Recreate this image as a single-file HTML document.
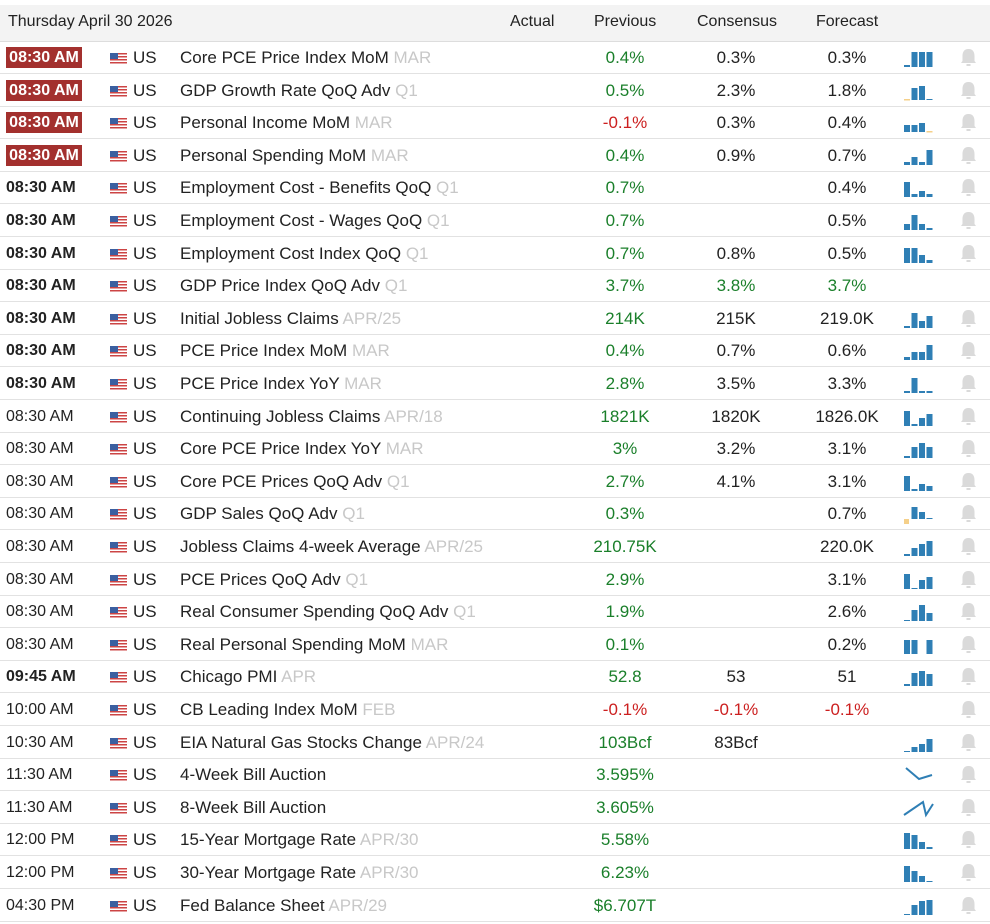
<!DOCTYPE html>
<html><head><meta charset="utf-8"><style>
body{margin:0;width:990px;height:924px;background:#fff;font-family:"Liberation Sans",Arial,sans-serif;font-size:17px;color:#222;position:relative;overflow:hidden}
.hd{position:absolute;left:0;top:5px;width:990px;height:36px;background:#f3f3f3;border-bottom:1px solid #ddd}
.hd span{position:absolute;top:8px;font-size:16px;color:#222}
.r{position:absolute;left:0;width:990px;height:32px;border-bottom:1px solid #e2e2e2}
.r>*{position:absolute;top:0;line-height:34px}
.t{left:6px;width:76px;text-align:left;font-size:16px}
.b{font-weight:bold}
.bd{top:6px!important;height:21px;line-height:21px!important;background:#a3302e;color:#fff;font-weight:bold;text-align:center;left:6px;width:76px;font-size:16px}
.fl{left:110px;top:12px!important;width:17px;height:11px;background:repeating-linear-gradient(#c44 0 1.5px,#fff 1.5px 3px)}
.fl:before{content:"";position:absolute;left:0;top:0;width:8px;height:6px;background:#3b5fa0}
.us{left:133px}
.ev{left:180px}
.ev i{font-style:normal;color:#c8c8c8}
.c{text-align:center;width:110px}
.a{left:476px}.p{left:570px}.n{left:681px}.f{left:792px}
.g{color:#1a7f2a}.red{color:#cc1f1f}
svg.s{left:900px;top:0!important;width:40px;height:32px}
svg.bell{left:960px;top:7px!important;width:17px;height:19px}
</style></head><body>
<div class="hd"><span style="left:8px">Thursday April 30 2026</span><span style="left:510px">Actual</span><span style="left:594px">Previous</span><span style="left:697px">Consensus</span><span style="left:816px">Forecast</span></div>

<div class="r" style="top:41px"><span class="bd">08:30 AM</span><span class="fl"></span><span class="us">US</span><span class="ev">Core PCE Price Index MoM <i>MAR</i></span><span class="c p g">0.4%</span><span class="c n">0.3%</span><span class="c f">0.3%</span><svg class="s"><g fill="#2f7fb5"><rect x="4" y="24" width="6" height="2"/><rect x="11.5" y="11" width="6" height="15"/><rect x="19" y="11" width="6" height="15"/><rect x="26.5" y="11" width="6" height="15"/></g></svg><svg class="bell"><path d="M8.5 1C3.5 1 2.5 5 2.5 8v5L1 15h15l-1.5-2V8c0-3-1-7-6-7zM6.5 16h4v2h-4z" fill="#dadada"/></svg></div>
<div class="r" style="top:73.6px"><span class="bd">08:30 AM</span><span class="fl"></span><span class="us">US</span><span class="ev">GDP Growth Rate QoQ Adv <i>Q1</i></span><span class="c p g">0.5%</span><span class="c n">2.3%</span><span class="c f">1.8%</span><svg class="s"><g fill="#2f7fb5"><rect x="4" y="25" width="6" height="1.5" fill="#f5d08a"/><rect x="11.5" y="14" width="6" height="12"/><rect x="19" y="12" width="6" height="14"/><rect x="26.5" y="25" width="6" height="1"/></g></svg><svg class="bell"><path d="M8.5 1C3.5 1 2.5 5 2.5 8v5L1 15h15l-1.5-2V8c0-3-1-7-6-7zM6.5 16h4v2h-4z" fill="#dadada"/></svg></div>
<div class="r" style="top:106.2px"><span class="bd">08:30 AM</span><span class="fl"></span><span class="us">US</span><span class="ev">Personal Income MoM <i>MAR</i></span><span class="c p red">-0.1%</span><span class="c n">0.3%</span><span class="c f">0.4%</span><svg class="s"><g fill="#2f7fb5"><rect x="4" y="19" width="6" height="7"/><rect x="11.5" y="19" width="6" height="7"/><rect x="19" y="17" width="6" height="9"/><rect x="26.5" y="25" width="6" height="1.5" fill="#f5d08a"/></g></svg><svg class="bell"><path d="M8.5 1C3.5 1 2.5 5 2.5 8v5L1 15h15l-1.5-2V8c0-3-1-7-6-7zM6.5 16h4v2h-4z" fill="#dadada"/></svg></div>
<div class="r" style="top:138.8px"><span class="bd">08:30 AM</span><span class="fl"></span><span class="us">US</span><span class="ev">Personal Spending MoM <i>MAR</i></span><span class="c p g">0.4%</span><span class="c n">0.9%</span><span class="c f">0.7%</span><svg class="s"><g fill="#2f7fb5"><rect x="4" y="23" width="6" height="3"/><rect x="11.5" y="18" width="6" height="8"/><rect x="19" y="23" width="6" height="3"/><rect x="26.5" y="11" width="6" height="15"/></g></svg><svg class="bell"><path d="M8.5 1C3.5 1 2.5 5 2.5 8v5L1 15h15l-1.5-2V8c0-3-1-7-6-7zM6.5 16h4v2h-4z" fill="#dadada"/></svg></div>
<div class="r" style="top:171.4px"><span class="t b">08:30 AM</span><span class="fl"></span><span class="us">US</span><span class="ev">Employment Cost - Benefits QoQ <i>Q1</i></span><span class="c p g">0.7%</span><span class="c f">0.4%</span><svg class="s"><g fill="#2f7fb5"><rect x="4" y="11" width="6" height="15"/><rect x="11.5" y="23" width="6" height="3"/><rect x="19" y="20" width="6" height="6"/><rect x="26.5" y="23" width="6" height="3"/></g></svg><svg class="bell"><path d="M8.5 1C3.5 1 2.5 5 2.5 8v5L1 15h15l-1.5-2V8c0-3-1-7-6-7zM6.5 16h4v2h-4z" fill="#dadada"/></svg></div>
<div class="r" style="top:204px"><span class="t b">08:30 AM</span><span class="fl"></span><span class="us">US</span><span class="ev">Employment Cost - Wages QoQ <i>Q1</i></span><span class="c p g">0.7%</span><span class="c f">0.5%</span><svg class="s"><g fill="#2f7fb5"><rect x="4" y="20" width="6" height="6"/><rect x="11.5" y="11" width="6" height="15"/><rect x="19" y="20" width="6" height="6"/><rect x="26.5" y="24" width="6" height="2"/></g></svg><svg class="bell"><path d="M8.5 1C3.5 1 2.5 5 2.5 8v5L1 15h15l-1.5-2V8c0-3-1-7-6-7zM6.5 16h4v2h-4z" fill="#dadada"/></svg></div>
<div class="r" style="top:236.6px"><span class="t b">08:30 AM</span><span class="fl"></span><span class="us">US</span><span class="ev">Employment Cost Index QoQ <i>Q1</i></span><span class="c p g">0.7%</span><span class="c n">0.8%</span><span class="c f">0.5%</span><svg class="s"><g fill="#2f7fb5"><rect x="4" y="11" width="6" height="15"/><rect x="11.5" y="11" width="6" height="15"/><rect x="19" y="18" width="6" height="8"/><rect x="26.5" y="23" width="6" height="3"/></g></svg><svg class="bell"><path d="M8.5 1C3.5 1 2.5 5 2.5 8v5L1 15h15l-1.5-2V8c0-3-1-7-6-7zM6.5 16h4v2h-4z" fill="#dadada"/></svg></div>
<div class="r" style="top:269.2px"><span class="t b">08:30 AM</span><span class="fl"></span><span class="us">US</span><span class="ev">GDP Price Index QoQ Adv <i>Q1</i></span><span class="c p g">3.7%</span><span class="c n g">3.8%</span><span class="c f g">3.7%</span></div>
<div class="r" style="top:301.8px"><span class="t b">08:30 AM</span><span class="fl"></span><span class="us">US</span><span class="ev">Initial Jobless Claims <i>APR/25</i></span><span class="c p g">214K</span><span class="c n">215K</span><span class="c f">219.0K</span><svg class="s"><g fill="#2f7fb5"><rect x="4" y="24" width="6" height="2"/><rect x="11.5" y="11" width="6" height="15"/><rect x="19" y="19" width="6" height="7"/><rect x="26.5" y="14" width="6" height="12"/></g></svg><svg class="bell"><path d="M8.5 1C3.5 1 2.5 5 2.5 8v5L1 15h15l-1.5-2V8c0-3-1-7-6-7zM6.5 16h4v2h-4z" fill="#dadada"/></svg></div>
<div class="r" style="top:334.4px"><span class="t b">08:30 AM</span><span class="fl"></span><span class="us">US</span><span class="ev">PCE Price Index MoM <i>MAR</i></span><span class="c p g">0.4%</span><span class="c n">0.7%</span><span class="c f">0.6%</span><svg class="s"><g fill="#2f7fb5"><rect x="4" y="23" width="6" height="3"/><rect x="11.5" y="18" width="6" height="8"/><rect x="19" y="18" width="6" height="8"/><rect x="26.5" y="11" width="6" height="15"/></g></svg><svg class="bell"><path d="M8.5 1C3.5 1 2.5 5 2.5 8v5L1 15h15l-1.5-2V8c0-3-1-7-6-7zM6.5 16h4v2h-4z" fill="#dadada"/></svg></div>
<div class="r" style="top:367px"><span class="t b">08:30 AM</span><span class="fl"></span><span class="us">US</span><span class="ev">PCE Price Index YoY <i>MAR</i></span><span class="c p g">2.8%</span><span class="c n">3.5%</span><span class="c f">3.3%</span><svg class="s"><g fill="#2f7fb5"><rect x="4" y="24" width="6" height="2"/><rect x="11.5" y="11" width="6" height="15"/><rect x="19" y="24" width="6" height="2"/><rect x="26.5" y="24" width="6" height="2"/></g></svg><svg class="bell"><path d="M8.5 1C3.5 1 2.5 5 2.5 8v5L1 15h15l-1.5-2V8c0-3-1-7-6-7zM6.5 16h4v2h-4z" fill="#dadada"/></svg></div>
<div class="r" style="top:399.6px"><span class="t">08:30 AM</span><span class="fl"></span><span class="us">US</span><span class="ev">Continuing Jobless Claims <i>APR/18</i></span><span class="c p g">1821K</span><span class="c n">1820K</span><span class="c f">1826.0K</span><svg class="s"><g fill="#2f7fb5"><rect x="4" y="11" width="6" height="15"/><rect x="11.5" y="24" width="6" height="2"/><rect x="19" y="18" width="6" height="8"/><rect x="26.5" y="14" width="6" height="12"/></g></svg><svg class="bell"><path d="M8.5 1C3.5 1 2.5 5 2.5 8v5L1 15h15l-1.5-2V8c0-3-1-7-6-7zM6.5 16h4v2h-4z" fill="#dadada"/></svg></div>
<div class="r" style="top:432.2px"><span class="t">08:30 AM</span><span class="fl"></span><span class="us">US</span><span class="ev">Core PCE Price Index YoY <i>MAR</i></span><span class="c p g">3%</span><span class="c n">3.2%</span><span class="c f">3.1%</span><svg class="s"><g fill="#2f7fb5"><rect x="4" y="24" width="6" height="2"/><rect x="11.5" y="15" width="6" height="11"/><rect x="19" y="11" width="6" height="15"/><rect x="26.5" y="15" width="6" height="11"/></g></svg><svg class="bell"><path d="M8.5 1C3.5 1 2.5 5 2.5 8v5L1 15h15l-1.5-2V8c0-3-1-7-6-7zM6.5 16h4v2h-4z" fill="#dadada"/></svg></div>
<div class="r" style="top:464.8px"><span class="t">08:30 AM</span><span class="fl"></span><span class="us">US</span><span class="ev">Core PCE Prices QoQ Adv <i>Q1</i></span><span class="c p g">2.7%</span><span class="c n">4.1%</span><span class="c f">3.1%</span><svg class="s"><g fill="#2f7fb5"><rect x="4" y="11" width="6" height="15"/><rect x="11.5" y="24" width="6" height="2"/><rect x="19" y="19" width="6" height="7"/><rect x="26.5" y="21" width="6" height="5"/></g></svg><svg class="bell"><path d="M8.5 1C3.5 1 2.5 5 2.5 8v5L1 15h15l-1.5-2V8c0-3-1-7-6-7zM6.5 16h4v2h-4z" fill="#dadada"/></svg></div>
<div class="r" style="top:497.4px"><span class="t">08:30 AM</span><span class="fl"></span><span class="us">US</span><span class="ev">GDP Sales QoQ Adv <i>Q1</i></span><span class="c p g">0.3%</span><span class="c f">0.7%</span><svg class="s"><g fill="#2f7fb5"><rect x="4" y="22" width="5" height="5" fill="#f5d08a"/><rect x="11.5" y="10" width="6" height="12"/><rect x="19" y="15" width="6" height="7"/><rect x="26.5" y="21" width="6" height="1"/></g></svg><svg class="bell"><path d="M8.5 1C3.5 1 2.5 5 2.5 8v5L1 15h15l-1.5-2V8c0-3-1-7-6-7zM6.5 16h4v2h-4z" fill="#dadada"/></svg></div>
<div class="r" style="top:530px"><span class="t">08:30 AM</span><span class="fl"></span><span class="us">US</span><span class="ev">Jobless Claims 4-week Average <i>APR/25</i></span><span class="c p g">210.75K</span><span class="c f">220.0K</span><svg class="s"><g fill="#2f7fb5"><rect x="4" y="24" width="6" height="2"/><rect x="11.5" y="18" width="6" height="8"/><rect x="19" y="14" width="6" height="12"/><rect x="26.5" y="11" width="6" height="15"/></g></svg><svg class="bell"><path d="M8.5 1C3.5 1 2.5 5 2.5 8v5L1 15h15l-1.5-2V8c0-3-1-7-6-7zM6.5 16h4v2h-4z" fill="#dadada"/></svg></div>
<div class="r" style="top:562.6px"><span class="t">08:30 AM</span><span class="fl"></span><span class="us">US</span><span class="ev">PCE Prices QoQ Adv <i>Q1</i></span><span class="c p g">2.9%</span><span class="c f">3.1%</span><svg class="s"><g fill="#2f7fb5"><rect x="4" y="11" width="6" height="15"/><rect x="11.5" y="25" width="6" height="1"/><rect x="19" y="17" width="6" height="9"/><rect x="26.5" y="14" width="6" height="12"/></g></svg><svg class="bell"><path d="M8.5 1C3.5 1 2.5 5 2.5 8v5L1 15h15l-1.5-2V8c0-3-1-7-6-7zM6.5 16h4v2h-4z" fill="#dadada"/></svg></div>
<div class="r" style="top:595.2px"><span class="t">08:30 AM</span><span class="fl"></span><span class="us">US</span><span class="ev">Real Consumer Spending QoQ Adv <i>Q1</i></span><span class="c p g">1.9%</span><span class="c f">2.6%</span><svg class="s"><g fill="#2f7fb5"><rect x="4" y="25" width="6" height="1"/><rect x="11.5" y="15" width="6" height="11"/><rect x="19" y="10" width="6" height="16"/><rect x="26.5" y="18" width="6" height="8"/></g></svg><svg class="bell"><path d="M8.5 1C3.5 1 2.5 5 2.5 8v5L1 15h15l-1.5-2V8c0-3-1-7-6-7zM6.5 16h4v2h-4z" fill="#dadada"/></svg></div>
<div class="r" style="top:627.8px"><span class="t">08:30 AM</span><span class="fl"></span><span class="us">US</span><span class="ev">Real Personal Spending MoM <i>MAR</i></span><span class="c p g">0.1%</span><span class="c f">0.2%</span><svg class="s"><g fill="#2f7fb5"><rect x="4" y="12" width="6" height="14"/><rect x="11.5" y="12" width="6" height="14"/><rect x="26.5" y="12" width="6" height="14"/></g></svg><svg class="bell"><path d="M8.5 1C3.5 1 2.5 5 2.5 8v5L1 15h15l-1.5-2V8c0-3-1-7-6-7zM6.5 16h4v2h-4z" fill="#dadada"/></svg></div>
<div class="r" style="top:660.4px"><span class="t b">09:45 AM</span><span class="fl"></span><span class="us">US</span><span class="ev">Chicago PMI <i>APR</i></span><span class="c p g">52.8</span><span class="c n">53</span><span class="c f">51</span><svg class="s"><g fill="#2f7fb5"><rect x="4" y="24" width="6" height="2"/><rect x="11.5" y="13" width="6" height="13"/><rect x="19" y="11" width="6" height="15"/><rect x="26.5" y="14" width="6" height="12"/></g></svg><svg class="bell"><path d="M8.5 1C3.5 1 2.5 5 2.5 8v5L1 15h15l-1.5-2V8c0-3-1-7-6-7zM6.5 16h4v2h-4z" fill="#dadada"/></svg></div>
<div class="r" style="top:693px"><span class="t">10:00 AM</span><span class="fl"></span><span class="us">US</span><span class="ev">CB Leading Index MoM <i>FEB</i></span><span class="c p red">-0.1%</span><span class="c n red">-0.1%</span><span class="c f red">-0.1%</span><svg class="bell"><path d="M8.5 1C3.5 1 2.5 5 2.5 8v5L1 15h15l-1.5-2V8c0-3-1-7-6-7zM6.5 16h4v2h-4z" fill="#dadada"/></svg></div>
<div class="r" style="top:725.6px"><span class="t">10:30 AM</span><span class="fl"></span><span class="us">US</span><span class="ev">EIA Natural Gas Stocks Change <i>APR/24</i></span><span class="c p g">103Bcf</span><span class="c n">83Bcf</span><svg class="s"><g fill="#2f7fb5"><rect x="4" y="25" width="6" height="1"/><rect x="11.5" y="21" width="6" height="5"/><rect x="19" y="18" width="6" height="8"/><rect x="26.5" y="13" width="6" height="13"/></g></svg><svg class="bell"><path d="M8.5 1C3.5 1 2.5 5 2.5 8v5L1 15h15l-1.5-2V8c0-3-1-7-6-7zM6.5 16h4v2h-4z" fill="#dadada"/></svg></div>
<div class="r" style="top:758.2px"><span class="t">11:30 AM</span><span class="fl"></span><span class="us">US</span><span class="ev">4-Week Bill Auction</span><span class="c p g">3.595%</span><svg class="s"><polyline points="6,10 19,21 32,17" fill="none" stroke="#2f7fb5" stroke-width="2"/></svg><svg class="bell"><path d="M8.5 1C3.5 1 2.5 5 2.5 8v5L1 15h15l-1.5-2V8c0-3-1-7-6-7zM6.5 16h4v2h-4z" fill="#dadada"/></svg></div>
<div class="r" style="top:790.8px"><span class="t">11:30 AM</span><span class="fl"></span><span class="us">US</span><span class="ev">8-Week Bill Auction</span><span class="c p g">3.605%</span><svg class="s"><polyline points="4,24 23,11 26,24 33,13" fill="none" stroke="#2f7fb5" stroke-width="2"/></svg><svg class="bell"><path d="M8.5 1C3.5 1 2.5 5 2.5 8v5L1 15h15l-1.5-2V8c0-3-1-7-6-7zM6.5 16h4v2h-4z" fill="#dadada"/></svg></div>
<div class="r" style="top:823.4px"><span class="t">12:00 PM</span><span class="fl"></span><span class="us">US</span><span class="ev">15-Year Mortgage Rate <i>APR/30</i></span><span class="c p g">5.58%</span><svg class="s"><g fill="#2f7fb5"><rect x="4" y="10" width="6" height="16"/><rect x="11.5" y="12" width="6" height="14"/><rect x="19" y="19" width="6" height="7"/><rect x="26.5" y="24" width="6" height="2"/></g></svg><svg class="bell"><path d="M8.5 1C3.5 1 2.5 5 2.5 8v5L1 15h15l-1.5-2V8c0-3-1-7-6-7zM6.5 16h4v2h-4z" fill="#dadada"/></svg></div>
<div class="r" style="top:856px"><span class="t">12:00 PM</span><span class="fl"></span><span class="us">US</span><span class="ev">30-Year Mortgage Rate <i>APR/30</i></span><span class="c p g">6.23%</span><svg class="s"><g fill="#2f7fb5"><rect x="4" y="10" width="6" height="16"/><rect x="11.5" y="15" width="6" height="11"/><rect x="19" y="20" width="6" height="6"/><rect x="26.5" y="25" width="6" height="1"/></g></svg><svg class="bell"><path d="M8.5 1C3.5 1 2.5 5 2.5 8v5L1 15h15l-1.5-2V8c0-3-1-7-6-7zM6.5 16h4v2h-4z" fill="#dadada"/></svg></div>
<div class="r" style="top:888.6px"><span class="t">04:30 PM</span><span class="fl"></span><span class="us">US</span><span class="ev">Fed Balance Sheet <i>APR/29</i></span><span class="c p g">$6.707T</span><svg class="s"><g fill="#2f7fb5"><rect x="4" y="25" width="6" height="1"/><rect x="11.5" y="16" width="6" height="10"/><rect x="19" y="12" width="6" height="14"/><rect x="26.5" y="11" width="6" height="15"/></g></svg><svg class="bell"><path d="M8.5 1C3.5 1 2.5 5 2.5 8v5L1 15h15l-1.5-2V8c0-3-1-7-6-7zM6.5 16h4v2h-4z" fill="#dadada"/></svg></div>
</body></html>
